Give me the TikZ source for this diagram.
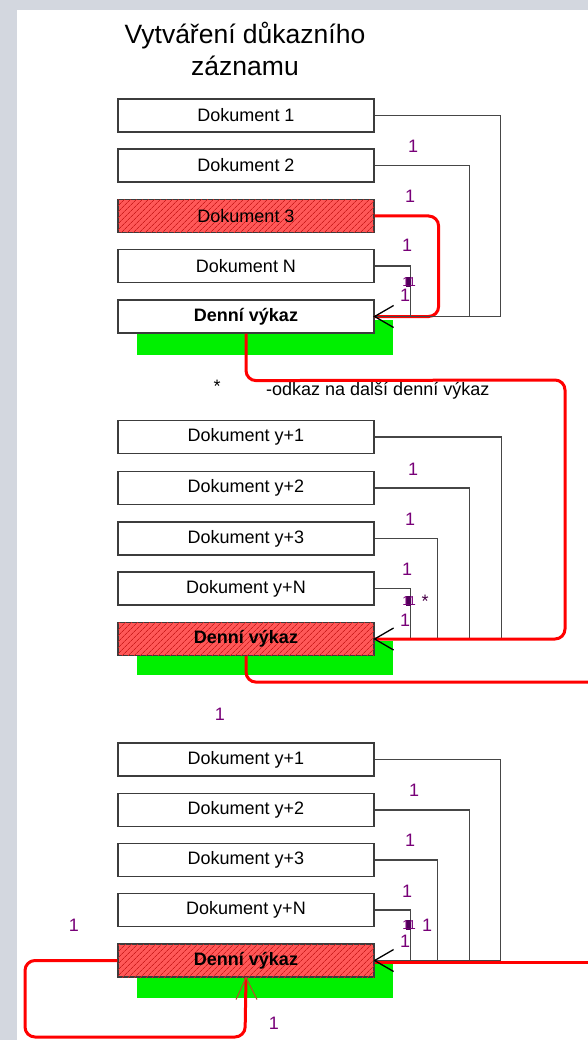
\documentclass[tikz,border=0pt]{standalone}
\usepackage{fontspec}
\setmainfont{Liberation Sans}
\usetikzlibrary{calc,patterns.meta}
\definecolor{pagegray}{RGB}{211,215,223}
\definecolor{boxline}{RGB}{60,60,60}
\definecolor{connline}{RGB}{70,70,70}
\definecolor{hotred}{RGB}{255,88,88}
\definecolor{hatchred}{RGB}{205,30,30}
\definecolor{shadowgreen}{RGB}{0,240,0}
\definecolor{flowred}{RGB}{255,0,0}
\definecolor{barbred}{RGB}{190,70,40}
\definecolor{labelpurple}{RGB}{120,0,120}
\definecolor{blobpurple}{RGB}{80,0,90}

\begin{document}
\begin{tikzpicture}[x=1pt,y=-1pt,
  doc/.style={draw=boxline, line width=1.2pt, fill=white,
    minimum width=256pt, minimum height=33pt, inner sep=0pt,
    font=\fontsize{18}{20}\selectfont},
  hot/.style={doc, fill=hotred,
    postaction={pattern={Lines[angle=45,distance=4pt,line width=0.8pt]},
      pattern color=hatchred}},
  report/.style={font=\fontsize{18}{20}\selectfont\bfseries},
  conn/.style={draw=connline, line width=1.2pt},
  flow/.style={draw=flowred, line width=3pt, rounded corners=10pt},
  tipline/.style={draw=black, line width=1.3pt},
  redbarb/.style={draw=barbred, line width=1pt},
  shade/.style={fill=shadowgreen},
  num/.style={text=labelpurple, inner sep=0pt, font=\fontsize{18}{20}\selectfont},
  plain/.style={inner sep=0pt, font=\fontsize{18}{20}\selectfont},
  blob/.style={fill=blobpurple}
]
% page and frame
\useasboundingbox (0,0) rectangle (588,1040);
\fill[pagegray] (0,0) rectangle (588,1040);
\fill[white] (17,10) rectangle (588,1040);

% title
\node[align=center, font=\fontsize{26.5}{32}\selectfont] (title) at (245,49)
  {Vytváření důkazního\\záznamu};

% ---------------- first day ----------------
\fill[shade] (137,320) rectangle (393,355);
\node[doc] (a1) at (246,115.5) {Dokument 1};
\node[doc] (a2) at (246,165.5) {Dokument 2};
\node[hot] (a3) at (246,216) {Dokument 3};
\node[doc] (a4) at (246,266) {Dokument N};
\node[doc, report] (a5) at (246,316.5) {Denní výkaz};

\draw[flow] (a3.east) -- ++(64,0) |- (a5.east);
\draw[conn] (a1.east) -- ++(126,0) |- (a5.east);
\draw[conn] (a2.east) -- ++(95,0) |- (a5.east);
\draw[conn] (a4.east) -- ++(36,0) |- (a5.east);
\draw[tipline] ($(a5.east)+(19,-11)$) -- (a5.east) -- ($(a5.east)+(19,11)$);

\node[num] (na1) at (413,146) {1};
\node[num] (na2) at (410,196) {1};
\node[num] (na3) at (407,245) {1};
\fill[blob] (406,277) rectangle (411,287);
\node[num, font=\fontsize{13}{14}\selectfont] (na4) at (409,282) {11};
\node[num] (na5) at (405,295) {1};

% note between the days
\node[plain] (star) at (217,386) {*};
\node[plain, anchor=west] (note) at (266,391) {-odkaz na další denní výkaz};

% ---------------- second day ----------------
\fill[shade] (137,641) rectangle (393,675);
\node[doc] (b1) at (246,437) {Dokument y+1};
\node[doc] (b2) at (246,488) {Dokument y+2};
\node[doc] (b3) at (246,538.5) {Dokument y+3};
\node[doc] (b4) at (246,588.5) {Dokument y+N};
\node[hot, report] (b5) at (246,639) {Denní výkaz};

\draw[conn] (b1.east) -- ++(127,0) |- (b5.east);
\draw[conn] (b2.east) -- ++(95,0) |- (b5.east);
\draw[conn] (b3.east) -- ++(63,0) |- (b5.east);
\draw[conn] (b4.east) -- ++(36,0) |- (b5.east);
\draw[flow] (a5.south) -- ++(0,47) -- (565,380) |- (b5.east);
\draw[tipline] ($(b5.east)+(19,-11)$) -- (b5.east) -- ($(b5.east)+(19,11)$);

\node[num] (nb1) at (413,469) {1};
\node[num] (nb2) at (410,519) {1};
\node[num] (nb3) at (407,569) {1};
\fill[blob] (406,596) rectangle (411,606);
\node[num, font=\fontsize{13}{14}\selectfont] (nb4) at (409,601) {11};
\node[plain, text=labelpurple!60!black] (nbs) at (425,601) {*};
\node[num] (nb5) at (405,620) {1};

\coordinate (out2) at (592,682);
\draw[flow] (b5.south) -- ++(0,26) -- (out2);

% ---------------- third day ----------------
\node[num] (nc0) at (220,714) {1};
\fill[shade] (137,963) rectangle (393,998);
\node[doc] (c1) at (246,759.5) {Dokument y+1};
\node[doc] (c2) at (246,810) {Dokument y+2};
\node[doc] (c3) at (246,860) {Dokument y+3};
\node[doc] (c4) at (246,910) {Dokument y+N};
\node[hot, report] (c5) at (246,960.5) {Denní výkaz};

\coordinate (in3) at (592,962);
\draw[flow] (in3) -- ($(c5.east)+(0,1.5)$);
\draw[conn] (c1.east) -- ++(126,0) |- (c5.east);
\draw[conn] (c2.east) -- ++(95,0) |- (c5.east);
\draw[conn] (c3.east) -- ++(63,0) |- (c5.east);
\draw[conn] (c4.east) -- ++(36,0) |- (c5.east);
\draw[tipline] ($(c5.east)+(19,-11)$) -- (c5.east) -- ($(c5.east)+(19,11)$);

\draw[flow] (c5.west) -- (25,960.5) |- (245,1037) -- (c5.south);
\draw[redbarb] ($(c5.south)+(-10,22)$) -- (c5.south) -- ($(c5.south)+(11,22)$);

\node[num] (nc1) at (414,790) {1};
\node[num] (nc2) at (410,840) {1};
\node[num] (nc3) at (407,891) {1};
\fill[blob] (406,920) rectangle (411,930);
\node[num, font=\fontsize{13}{14}\selectfont] (nc4) at (409,925) {11};
\node[num] (nc6) at (427,925) {1};
\node[num] (nc5) at (405,941) {1};
\node[num] (nc7) at (74,925) {1};
\node[num] (nc8) at (274,1023) {1};
\end{tikzpicture}
\end{document}
